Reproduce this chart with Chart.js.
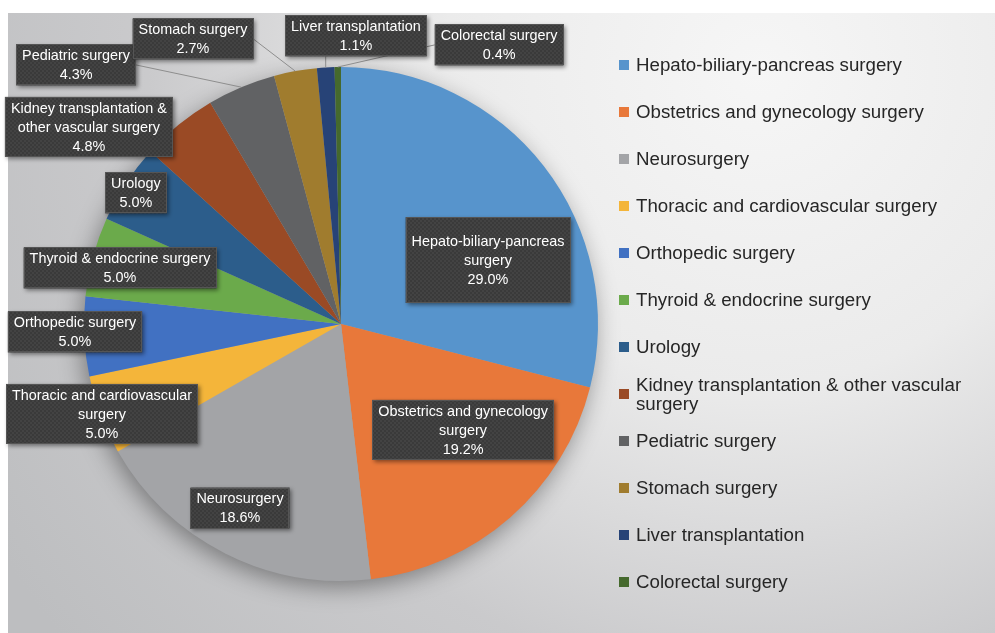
<!DOCTYPE html>
<html>
<head>
<meta charset="utf-8">
<script src="https://cdn.jsdelivr.net/npm/chart.js@4.4.0/dist/chart.umd.min.js"></script>
<style>
  html, body { margin: 0; padding: 0; background: #fff; }
  #grafica { display: block; }
</style>
</head>
<body>
<canvas id="grafica" width="995" height="633"></canvas>
<script>
// Datos
const categorias = [
    'Hepato-biliary-pancreas surgery',
    'Obstetrics and gynecology surgery',
    'Neurosurgery',
    'Thoracic and cardiovascular surgery',
    'Orthopedic surgery',
    'Thyroid & endocrine surgery',
    'Urology',
    'Kidney transplantation & other vascular surgery',
    'Pediatric surgery',
    'Stomach surgery',
    'Liver transplantation',
    'Colorectal surgery'
];
const porcentajes = [29.0, 19.2, 18.6, 5.0, 5.0, 5.0, 5.0, 4.8, 4.3, 2.7, 1.1, 0.4];

// texto de las etiquetas (como se parte en la imagen)
const lineasEtiqueta = [
    ['Hepato-biliary-pancreas', 'surgery'],
    ['Obstetrics and gynecology', 'surgery'],
    ['Neurosurgery'],
    ['Thoracic and cardiovascular', 'surgery'],
    ['Orthopedic surgery'],
    ['Thyroid & endocrine surgery'],
    ['Urology'],
    ['Kidney transplantation &', 'other vascular surgery'],
    ['Pediatric surgery'],
    ['Stomach surgery'],
    ['Liver transplantation'],
    ['Colorectal surgery']
];
const lineasLeyenda = [
    ['Hepato-biliary-pancreas surgery'],
    ['Obstetrics and gynecology surgery'],
    ['Neurosurgery'],
    ['Thoracic and cardiovascular surgery'],
    ['Orthopedic surgery'],
    ['Thyroid & endocrine surgery'],
    ['Urology'],
    ['Kidney transplantation & other vascular', 'surgery'],
    ['Pediatric surgery'],
    ['Stomach surgery'],
    ['Liver transplantation'],
    ['Colorectal surgery']
];

// Estilo
const colores = ['#5794cc', '#e8783a', '#a3a4a7', '#f4b53a', '#4171c2', '#6baa4b',
                 '#2c5d8b', '#9a4a25', '#616264', '#a07c2e', '#274377', '#45692d'];

// posición de cada etiqueta respecto al centro, en radios
const posEtiqueta = [
    [0.572, -0.249], [0.475, 0.412], [-0.393, 0.716], [-0.930, 0.350],
    [-1.035, 0.031], [-0.860, -0.218], [-0.798, -0.510], [-0.981, -0.767],
    [-1.031, -1.008], [-0.576, -1.109], [0.058, -1.121], [0.615, -1.086]
];
const conLinea = [false, false, false, false, false, false, false, false, true, true, true, true];

const fuente = '"Liberation Sans", Arial, Helvetica, sans-serif';

function crearTrama() {
    const c = document.createElement('canvas');
    c.width = 4; c.height = 4;
    const g = c.getContext('2d');
    g.fillStyle = '#3a3a3a';
    g.fillRect(0, 0, 4, 4);
    g.fillStyle = '#434343';
    g.fillRect(0, 0, 2, 2);
    g.fillRect(2, 2, 2, 2);
    return c;
}

const pluginDecoracion = {
    id: 'decoracion',
    beforeDraw(chart) {
        const ctx = chart.ctx;
        ctx.save();
        ctx.fillStyle = '#ffffff';
        ctx.fillRect(0, 0, chart.width, chart.height);
        const grad = ctx.createRadialGradient(760, 70, 0, 760, 70, 900);
        grad.addColorStop(0, '#f6f6f6');
        grad.addColorStop(0.35, '#ebebeb');
        grad.addColorStop(0.68, '#cacacc');
        grad.addColorStop(1, '#bdbec0');
        ctx.fillStyle = grad;
        ctx.fillRect(8, 13, chart.width - 8, chart.height - 13);
        ctx.restore();
    },
    beforeDatasetsDraw(chart) {
        const arco = chart.getDatasetMeta(0).data[0];
        const ctx = chart.ctx;
        ctx.save();
        ctx.shadowColor = 'rgba(0,0,0,0.4)';
        ctx.shadowBlur = 24;
        ctx.shadowOffsetX = -3;
        ctx.shadowOffsetY = 7;
        ctx.fillStyle = '#a3a4a7';
        ctx.beginPath();
        ctx.arc(arco.x, arco.y, arco.outerRadius - 1, 0, Math.PI * 2);
        ctx.fill();
        ctx.restore();
    },
    afterDatasetsDraw(chart) {
        const ctx = chart.ctx;
        const meta = chart.getDatasetMeta(0);
        const cx = meta.data[0].x, cy = meta.data[0].y, r = meta.data[0].outerRadius;
        const trama = ctx.createPattern(crearTrama(), 'repeat');
        const altoLinea = 19;
        const fuenteEtiqueta = '14.4px ' + fuente;

        const cajas = meta.data.map((arco, i) => {
            const lineas = lineasEtiqueta[i].concat([porcentajes[i].toFixed(1) + '%']);
            ctx.font = fuenteEtiqueta;
            const ancho = Math.max(...lineas.map(t => ctx.measureText(t).width)) + 12;
            let alto = lineas.length * altoLinea + 3;
            if (i === 0) alto = 86;
            const x = cx + posEtiqueta[i][0] * r;
            const y = cy + posEtiqueta[i][1] * r;
            return { lineas, x, y, w: ancho, h: alto, left: x - ancho / 2, top: y - alto / 2 };
        });

        // líneas guía
        ctx.save();
        ctx.strokeStyle = '#8e8e8e';
        ctx.lineWidth = 1;
        meta.data.forEach((arco, i) => {
            if (!conLinea[i]) return;
            const medio = (arco.startAngle + arco.endAngle) / 2;
            const tx = cx + Math.cos(medio) * r;
            const ty = cy + Math.sin(medio) * r;
            const b = cajas[i];
            let sx, sy;
            if (tx >= b.left && tx <= b.left + b.w) {
                sx = tx; sy = b.top + b.h;
            } else if (tx > b.left + b.w) {
                sx = b.left + b.w; sy = b.y;
            } else {
                sx = b.left; sy = b.y;
            }
            ctx.beginPath();
            ctx.moveTo(sx, sy);
            ctx.lineTo(tx, ty);
            ctx.stroke();
        });
        ctx.restore();

        // cajas con texto
        cajas.forEach((b) => {
            ctx.save();
            ctx.shadowColor = 'rgba(0,0,0,0.45)';
            ctx.shadowBlur = 4;
            ctx.shadowOffsetX = 2;
            ctx.shadowOffsetY = 2;
            ctx.fillStyle = trama;
            ctx.fillRect(b.left, b.top, b.w, b.h);
            ctx.restore();
            ctx.save();
            ctx.strokeStyle = '#555555';
            ctx.lineWidth = 1;
            ctx.strokeRect(Math.round(b.left) + 0.5, Math.round(b.top) + 0.5, Math.round(b.w) - 1, Math.round(b.h) - 1);
            ctx.fillStyle = '#ffffff';
            ctx.font = fuenteEtiqueta;
            ctx.textAlign = 'center';
            ctx.textBaseline = 'middle';
            const y0 = b.y - (b.lineas.length - 1) * altoLinea / 2;
            b.lineas.forEach((t, k) => ctx.fillText(t, b.x, y0 + k * altoLinea + 1));
            ctx.restore();
        });
    },
    afterDraw(chart) {
        // leyenda a la derecha
        const ctx = chart.ctx;
        ctx.save();
        ctx.font = '18.7px ' + fuente;
        ctx.textBaseline = 'middle';
        ctx.textAlign = 'left';
        lineasLeyenda.forEach((lineas, i) => {
            const yc = 65 + i * 47;
            ctx.fillStyle = colores[i];
            ctx.fillRect(619, yc - 5, 10, 10);
            ctx.fillStyle = '#262626';
            const y0 = yc - (lineas.length - 1) * 19 / 2;
            lineas.forEach((t, k) => ctx.fillText(t, 636, y0 + k * 19 + 1));
        });
        ctx.restore();
    }
};

new Chart(document.getElementById('grafica').getContext('2d'), {
    type: 'pie',
    data: {
        labels: categorias,
        datasets: [{
            data: porcentajes,
            backgroundColor: colores,
            borderWidth: 0
        }]
    },
    options: {
        responsive: false,
        animation: false,
        layout: { padding: { left: 84, top: 67, right: 397, bottom: 52 } },
        plugins: {
            legend: { display: false },
            tooltip: { enabled: false }
        }
    },
    plugins: [pluginDecoracion]
});
</script>
</body>
</html>
